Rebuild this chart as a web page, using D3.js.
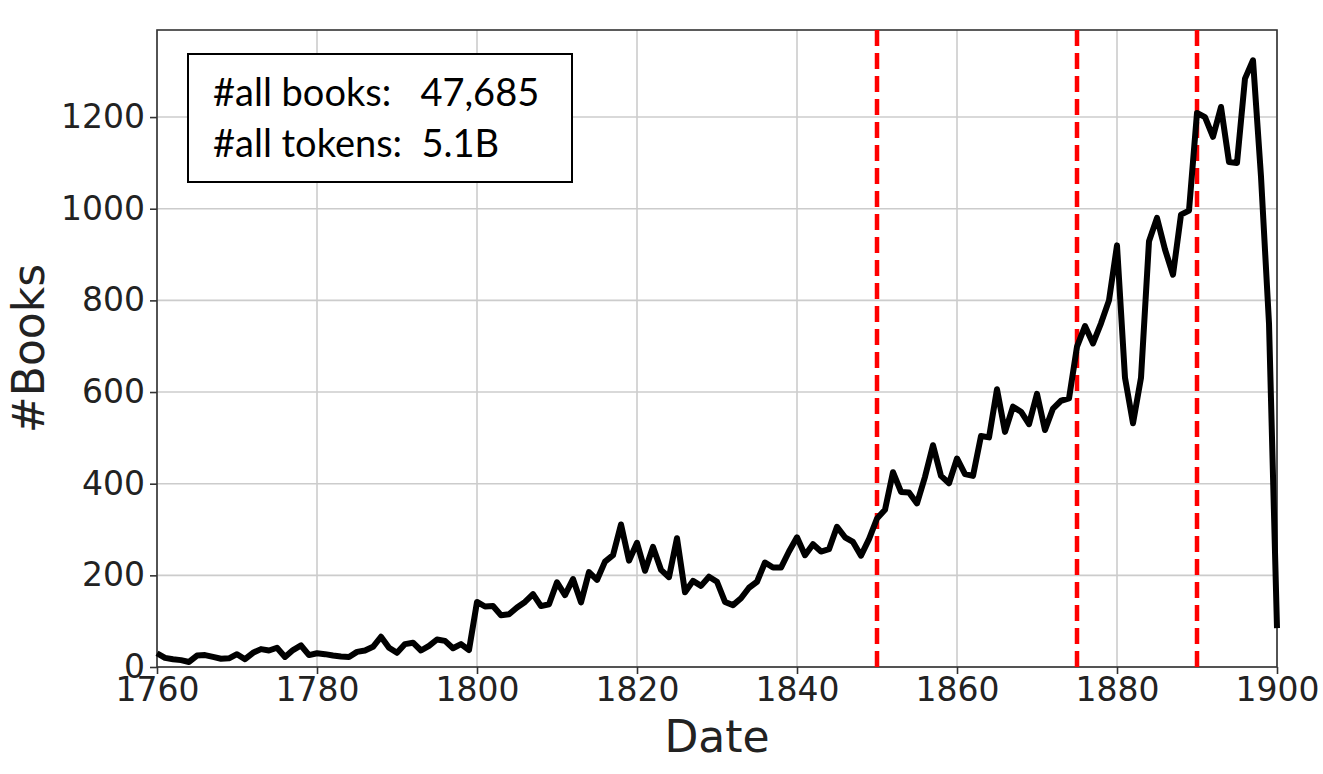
<!DOCTYPE html>
<html>
<head>
<meta charset="utf-8">
<script src="https://cdn.jsdelivr.net/npm/d3@7"></script>
<style>
  html, body { margin: 0; padding: 0; background: #fff; }
  svg { display: block; }
</style>
</head>
<body>
<svg id="chart" width="1323" height="774"></svg>
<script>
const startYear = 1760;
const bookCounts = [
  30, 20, 17, 15, 11, 25, 26, 22, 18, 19,
  28, 17, 31, 39, 36, 42, 22, 37, 47, 26,
  30, 28, 25, 23, 22, 33, 36, 44, 66, 42,
  31, 50, 53, 36, 46, 60, 57, 41, 50, 37,
  142, 132, 133, 113, 115, 130, 142, 159, 133, 137,
  185, 157, 192, 141, 207, 190, 230, 244, 311, 232,
  271, 210, 262, 212, 196, 281, 163, 188, 177, 197,
  186, 142, 135, 150, 173, 186, 228, 217, 217, 252,
  283, 244, 268, 252, 257, 306, 283, 273, 243, 279,
  324, 343, 425, 382, 381, 357, 415, 484, 417, 401,
  455, 421, 417, 504, 501, 606, 513, 568, 557, 530,
  596, 517, 564, 581, 586, 699, 744, 706, 750, 800,
  920, 631, 532, 631, 929, 980, 911, 856, 987, 996,
  1209, 1200, 1157, 1222, 1102, 1100, 1284, 1324, 1070, 750,
  85
];
const years = bookCounts.map((_, i) => startYear + i);
const xTicks = [1760, 1780, 1800, 1820, 1840, 1860, 1880, 1900];
const yTicks = [0, 200, 400, 600, 800, 1000, 1200];
const markerYears = [1850, 1875, 1890];
const statLines = ["#all books:   47,685", "#all tokens:  5.1B"];
const xLabel = "Date";
const yLabel = "#Books";

const svg = d3.select("#chart");
const L = 157, R = 1277, T = 30, B = 667;
const x = d3.scaleLinear().domain([1760, 1900]).range([L, R]);
const y = d3.scaleLinear().domain([0, 1390]).range([B, T]);

// grid
const grid = svg.append("g");
grid.selectAll("line.gx").data(xTicks).join("line")
  .attr("x1", d => x(d)).attr("x2", d => x(d)).attr("y1", T).attr("y2", B)
  .attr("stroke", "#cccccc").attr("stroke-width", 1.6);
grid.selectAll("line.gy").data(yTicks).join("line")
  .attr("x1", L).attr("x2", R).attr("y1", d => y(d)).attr("y2", d => y(d))
  .attr("stroke", "#cccccc").attr("stroke-width", 1.6);

// frame
svg.append("rect").attr("x", L).attr("y", T).attr("width", R - L).attr("height", B - T)
  .attr("fill", "none").attr("stroke", "#333").attr("stroke-width", 1.6);

// axes
const fontTick = "'DejaVu Sans', sans-serif";
const xAxis = d3.axisBottom(x).tickValues(xTicks).tickFormat(d3.format("d")).tickSize(7).tickPadding(4);
const gx = svg.append("g").attr("transform", `translate(0,${B})`).call(xAxis);
const yAxis = d3.axisLeft(y).tickValues(yTicks).tickFormat(d3.format("d")).tickSize(7).tickPadding(5);
const gy = svg.append("g").attr("transform", `translate(${L},0)`).call(yAxis);
[gx, gy].forEach(g => {
  g.select(".domain").remove();
  g.selectAll(".tick line").attr("stroke", "#333").attr("stroke-width", 1.6);
  g.selectAll(".tick text").attr("fill", "#222").style("font-family", fontTick).style("font-size", "33px");
});

// marker lines
svg.append("g").selectAll("line").data(markerYears).join("line")
  .attr("x1", d => x(d)).attr("x2", d => x(d)).attr("y1", T).attr("y2", B)
  .attr("stroke", "#ff0000").attr("stroke-width", 4.5).attr("stroke-dasharray", "16,7");

// data line
const line = d3.line().x((d, i) => x(years[i])).y(d => y(d));
svg.append("path").datum(bookCounts)
  .attr("d", line).attr("fill", "none").attr("stroke", "#000")
  .attr("stroke-width", 6).attr("stroke-linejoin", "round");

// labels
svg.append("text").attr("x", (L + R) / 2).attr("y", 752).attr("text-anchor", "middle")
  .style("font-family", fontTick).style("font-size", "44px").attr("fill", "#222").text(xLabel);
svg.append("text").attr("transform", `translate(44,${(T + B) / 2}) rotate(-90)`)
  .attr("text-anchor", "middle")
  .style("font-family", fontTick).style("font-size", "44px").attr("fill", "#222").text(yLabel);

// stats box
svg.append("rect").attr("x", 188).attr("y", 54).attr("width", 384).attr("height", 128)
  .attr("fill", "#fff").attr("stroke", "#000").attr("stroke-width", 2);
svg.append("g").selectAll("text").data(statLines).join("text")
  .attr("x", 213).attr("y", (d, i) => 106 + i * 51)
  .style("font-family", "Lato, sans-serif").style("font-size", "38px").attr("fill", "#000")
  .style("white-space", "pre").attr("xml:space", "preserve")
  .text(d => d);
</script>
</body>
</html>
